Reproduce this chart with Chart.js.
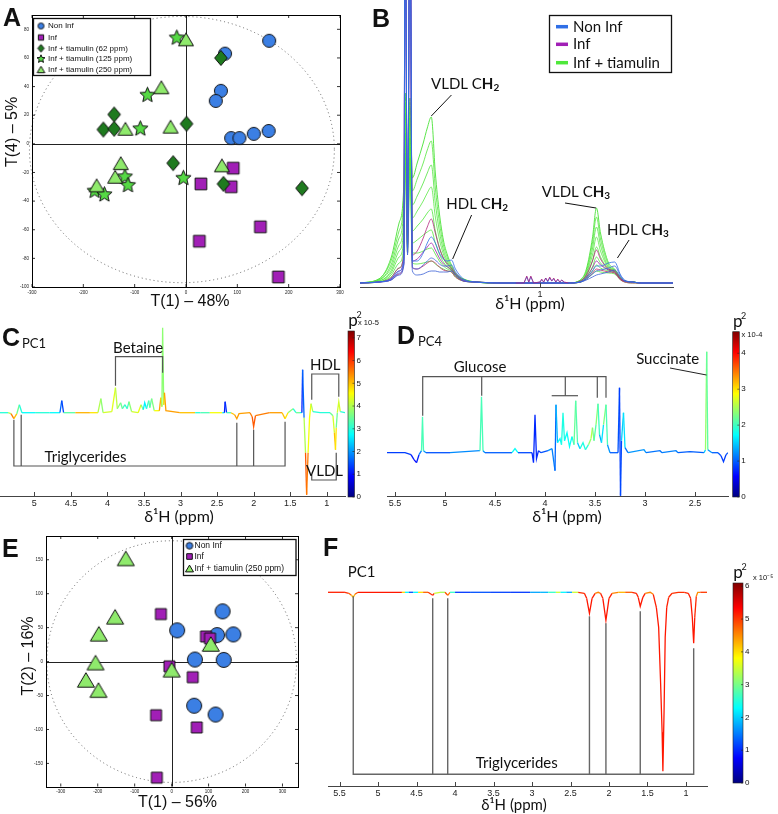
<!DOCTYPE html>
<html>
<head>
<meta charset="utf-8">
<title>Tiamulin NMR figure</title>
<script src="https://cdn.jsdelivr.net/npm/chart.js@4.4.1/dist/chart.umd.min.js"></script>
<style>
  body { margin: 0; background: #fff; }
  #fig { position: relative; width: 778px; height: 814px; overflow: hidden; }
  #fig canvas { position: absolute; }
</style>
</head>
<body>
<div id="fig">
  <canvas id="cA" width="355" height="314" style="left:0;top:0"></canvas>
  <canvas id="cB" width="423" height="320" style="left:355px;top:0"></canvas>
  <canvas id="cC" width="385" height="225" style="left:0;top:300px"></canvas>
  <canvas id="cD" width="393" height="225" style="left:385px;top:300px"></canvas>
  <canvas id="cE" width="330" height="289" style="left:0;top:525px"></canvas>
  <canvas id="cF" width="458" height="289" style="left:320px;top:525px"></canvas>
</div>
<script>
// ---------- panel A scores (T1 vs T4) ----------
var aNonInfX = [162, 76, 68, 58, 88, 104, 132, 161];
var aNonInfY = [72, 63, 37, 30, 4, 4, 7, 9];
var aInfX = [92, 29, 88, 26, 145, 180];
var aInfY = [-17, -28, -30, -68, -58, -93];
var aT62X = [68, -140, -161, -140, 1, -25, 73, 226];
var aT62Y = [60, 20.5, 10, 10.5, 14, -13.5, -28, -31];
var aT125X = [-18, -75, -89, -5, -119, -113, -178, -159];
var aT125Y = [74, 34, 10.5, -24, -23, -29, -33, -35.5];
var aT250X = [0, -48, -118, -30, -127, -138, -174, 70];
var aT250Y = [73, 39.5, 10.5, 12, -13.5, -23, -29, -15];
var aTicksX = [-300, -200, -100, 0, 100, 200, 300];
var aTicksY = [-100, -80, -60, -40, -20, 0, 20, 40, 60, 80];
var aEllipse = [-8, -4, 297, 93];   // centre x, centre y, radius x, radius y

// ---------- panel E scores (T1 vs T2) ----------
var eNonInfX = [138, 15, 123, 167, 63, 141, 61, 119];
var eNonInfY = [74, 46, 39, 40, 3, 2.5, -65, -78];
var eInfX = [-29, 93, 104, -6, 57, -42, 68, -40];
var eInfY = [70, 37, 34, -7, -23, -79, -97, -171];
var eT250X = [-124, -153, -197, -206, -232, -198, 0, 106];
var eT250Y = [152, 66, 41, -1.5, -27, -42, -12, 26];
var eTicksX = [-300, -200, -100, 0, 100, 200, 300];
var eTicksY = [-150, -100, -50, 0, 50, 100, 150];
var eEllipse = [0, 0, 338, 178];

// ---------- panel B spectra ----------
var bPpm = [1.45, 1.40, 1.37, 1.35, 1.338, 1.335, 1.329, 1.323, 1.317, 1.305, 1.29, 1.28, 1.27, 1.26, 1.25, 1.24, 1.23, 1.22, 1.21, 1.19, 1.16, 1.10, 0.93, 0.90, 0.885, 0.87, 0.86, 0.85, 0.83, 0.815, 0.80, 0.79, 0.77, 0.75, 0.67];
var bGreen1 = [0, 4, 25, 60, 100, 190, 100, 185, 105, 120, 140, 155, 166, 110, 70, 43, 28, 18, 10, 4, 1, 0, 0, 3, 14, 45, 75, 50, 20, 14, 5, 2, 1, 0, 0];
var bGreen2 = [0, 4, 22, 52, 90, 180, 90, 175, 92, 104, 120, 133, 142, 95, 61, 38, 25, 16, 9, 4, 1, 0, 0, 3, 12, 40, 66, 44, 18, 13, 5, 2, 1, 0, 0];
var bGreen3 = [0, 3, 18, 45, 78, 170, 78, 165, 78, 87, 100, 110, 118, 80, 52, 33, 22, 15, 9, 3, 1, 0, 0, 2, 10, 34, 56, 38, 16, 13, 5, 2, 1, 0, 0];
var bGreen4 = [0, 3, 15, 38, 66, 160, 66, 155, 65, 72, 82, 90, 96, 66, 44, 29, 20, 14, 8, 3, 1, 0, 0, 2, 9, 28, 46, 32, 15, 12, 4, 2, 1, 0, 0];
var bGreen5 = [0, 2, 12, 32, 56, 150, 56, 145, 52, 57, 64, 70, 74, 52, 36, 25, 18, 14, 8, 3, 1, 0, 0, 2, 7, 22, 36, 26, 14, 12, 4, 2, 1, 0, 0];
var bGreen6 = [0, 2, 10, 26, 46, 140, 46, 135, 40, 43, 48, 51, 53, 40, 29, 21, 16, 13, 8, 3, 1, 0, 0, 1, 6, 16, 26, 20, 13, 11, 4, 2, 1, 0, 0];
var bGreen7 = [0, 1, 8, 20, 38, 130, 38, 125, 30, 30, 32, 34, 35, 29, 22, 17, 14, 12, 7, 2, 1, 0, 0, 1, 5, 12, 18, 15, 12, 10, 4, 2, 1, 0, 0];
var bGreen8 = [0, 1, 6, 15, 30, 120, 30, 115, 20, 19, 20, 21, 22, 19, 16, 14, 12, 11, 6, 2, 1, 0, 0, 1, 4, 9, 12, 11, 10, 9, 3, 1, 0, 0, 0];
var bInf1 = [0, 1, 5, 15, 30, 400, 40, 400, 28, 32, 45, 56, 64, 50, 35, 25, 19, 15, 9, 3, 1, 0, 0, 2, 8, 22, 33, 24, 14, 12, 4, 2, 1, 0, 0];
var bInf2 = [0, 1, 4, 12, 25, 400, 35, 400, 22, 24, 31, 36, 40, 33, 25, 19, 16, 13, 8, 2, 1, 0, 0, 1, 6, 15, 22, 18, 13, 11, 4, 2, 1, 0, 0];
var bInf3 = [0, 1, 3, 9, 20, 400, 30, 400, 15, 14, 17, 20, 22, 20, 16, 13, 12, 11, 6, 2, 1, 0, 0, 1, 4, 10, 14, 13, 11, 10, 3, 1, 0, 0, 0];
var bNon1 = [0, 1, 4, 12, 25, 400, 35, 400, 22, 22, 30, 40, 46, 40, 30, 24, 22, 23, 14, 4, 1, 0, 0, 1, 5, 12, 17, 17, 20, 21, 8, 3, 1, 0, 0];
var bNon2 = [0, 1, 3, 10, 20, 400, 30, 400, 16, 14, 18, 22, 25, 23, 19, 17, 17, 18, 11, 3, 1, 0, 0, 1, 4, 9, 12, 13, 15, 17, 7, 2, 1, 0, 0];
var bNon3 = [0, 1, 3, 8, 18, 400, 28, 400, 12, 8, 9, 11, 12, 12, 11, 11, 11, 12, 8, 2, 1, 0, 0, 1, 3, 6, 8, 9, 11, 13, 6, 2, 1, 0, 0];
var bMultPpm = [1.06, 1.04, 1.033, 1.028, 1.023, 1.016, 1.0, 0.996, 0.991, 0.986, 0.981, 0.976, 0.971, 0.966, 0.961, 0.956, 0.951, 0.946, 0.94, 0.93];
var bMultInf = [0, 0, 7, 1, 7, 0, 1, 4, 1, 5, 2, 6, 2, 5, 1, 4, 1, 3, 1, 0];
var bMultNon = [0, 0, 6, 1, 6, 0, 1, 3, 1, 5, 1, 5, 2, 4, 1, 3, 1, 3, 0, 0];
var bTicks = [1];

// ---------- panel C loadings PC1 (p, coloured by p^2 x1e-5) ----------
var cPpm = [5.47, 5.36, 5.32, 5.28, 5.24, 5.205, 5.17, 4.99, 4.79, 4.65, 4.625, 4.60,
            4.44, 4.24, 4.13, 4.09, 4.06, 3.94, 3.89, 3.865, 3.82, 3.795, 3.76, 3.73,
            3.705, 3.67, 3.58, 3.54, 3.51, 3.49, 3.465, 3.435, 3.42, 3.395, 3.36, 3.29,
            3.27, 3.255, 3.245, 3.23, 3.22, 3.20, 3.01, 2.80, 2.73, 2.60, 2.43, 2.40,
            2.39, 2.37, 2.31, 2.26, 2.23, 2.20, 2.05, 2.02, 2.00, 1.975, 1.78, 1.61,
            1.57, 1.53, 1.46, 1.42, 1.365, 1.34, 1.33, 1.31, 1.29, 1.275, 1.255, 1.235,
            1.215, 1.19, 1.09, 0.955, 0.915, 0.895, 0.88, 0.87, 0.855, 0.835, 0.815, 0.75];
var cLoad = [0, 0, -1, -6, -1, 8, 0, 0, 0, 0, 12, 0,
             0, 0, 0, 14, 0, 1, 25, 4, 10, 4, 8, 4,
             11, 1, 0, 8, 3, 10, 4, 12, 5, 14, 2, 2,
             15, 6, 85, 8, 20, 2, 0, 0, 0, 0, 0, 0,
             11, 0, 0, -2, -6, -1, 0, -4, -14, -3, 0, 0,
             -6, 0, 4, 0, 0, 0, 43, -5, -40, -82, -40, -5,
             9, 1, 0, 0, -3, -20, -37, -15, 0, 11, 1, 0];
var cP2 = [3, 3, 5, 6, 4, 3, 3, 2.5, 3.5, 2, 1.3, 1.5,
           5.2, 5, 4.5, 3.5, 4, 4.5, 4.2, 4, 3.5, 3.5, 3, 3,
           3.5, 4, 4.5, 4.3, 3, 2.3, 3, 3.2, 3.5, 3.3, 4, 5,
           5.5, 4, 3.5, 4, 5.5, 5, 5.5, 4.5, 1.5, 5, 4, 1.2,
           1, 1.5, 5, 5, 5.5, 5, 5.5, 5.5, 6, 5.5, 5.5, 5,
           5, 4.5, 3, 3, 4, 1.5, 0.8, 2.5, 5.5, 6, 5, 4,
           5, 3, 3, 3, 4, 4.5, 5.5, 4, 3, 5.5, 3, 3];
var cTicks = [5, 4.5, 4, 3.5, 3, 2.5, 2, 1.5, 1];
var cBarTicks = [0, 1, 2, 3, 4, 5, 6, 7];

// ---------- panel D loadings PC4 (p^2 x1e-4) ----------
var dPpm = [5.58, 5.40, 5.34, 5.31, 5.285, 5.26, 5.235, 5.225, 5.215, 5.19, 4.95, 4.65,
            4.635, 4.62, 4.60, 4.33, 4.30, 4.27, 4.13, 4.115, 4.10, 4.085, 4.065, 4.04,
            3.97, 3.93, 3.90, 3.89, 3.875, 3.85, 3.835, 3.82, 3.805, 3.78, 3.755, 3.73,
            3.71, 3.693, 3.675, 3.65, 3.62, 3.595, 3.565, 3.54, 3.525, 3.51, 3.49, 3.47,
            3.455, 3.435, 3.415, 3.39, 3.375, 3.35, 3.27, 3.255, 3.245, 3.235, 3.215, 3.20,
            3.17, 3.01, 2.99, 2.85, 2.83, 2.69, 2.67, 2.55, 2.41, 2.395, 2.383, 2.372,
            2.33, 2.27, 2.24, 2.215, 2.19, 2.17];
var dLoad = [0, 0, -2, -7, -10, -2, 2, 36, 2, 0, 0, 2,
             56, 2, 0, 0, 4, 0, 0, -10, 38, -6, 2, 0,
             2, 4, -18, 48, 10, 14, 8, 40, 12, 20, 6, 16,
             8, 52, 10, 4, 10, 3, 8, 14, 25, 12, 28, 49,
             18, 10, 28, 48, 8, 0, 0, 65, -43, 12, 40, 5,
             0, 3, 0, 2, 0, 2, 0, 1, 0, 3, 101, 3,
             0, 0, -3, -9, -2, 0];
var dP2 = [0.8, 0.9, 0.8, 0.6, 0.6, 0.8, 1.5, 2.6, 1.5, 1, 0.9, 1.5,
           2.6, 1.5, 1, 1, 2.5, 1, 0.8, 0.7, 0.8, 0.7, 0.8, 0.9,
           1, 1.5, 0.8, 1.3, 1.5, 2, 1.5, 2.2, 1.5, 2, 1.5, 2,
           1.7, 2.7, 1.5, 1.5, 2.2, 1.5, 2.3, 2.5, 2.6, 2, 2.2, 2.5,
           1.5, 1.2, 2, 2.6, 1.5, 1, 1, 0.9, 0.8, 1, 2, 1.2,
           1, 1.5, 1, 1.2, 1, 1.3, 1, 1, 1, 2, 2.8, 1.5,
           1, 1, 0.9, 0.8, 0.9, 1];
var dTicks = [5.5, 5, 4.5, 4, 3.5, 3, 2.5];
var dBarTicks = [0, 1, 2, 3, 4];

// ---------- panel F loadings PC1 (p^2 x1e-5) ----------
var fPpm = [5.65, 5.43, 5.38, 5.346, 5.322, 5.30, 5.26, 4.975, 4.69, 4.65, 4.60, 4.545,
            4.48, 4.415, 4.35, 4.31, 4.29, 4.27, 4.195, 4.13, 4.095, 4.065, 4.00, 3.805,
            3.675, 3.545, 3.415, 3.285, 3.155, 3.025, 2.895, 2.79, 2.69, 2.63, 2.555, 2.48,
            2.40, 2.32, 2.29, 2.254, 2.22, 2.18, 2.14, 2.11, 2.08, 2.04, 2.00, 1.96,
            1.88, 1.79, 1.70, 1.645, 1.62, 1.594, 1.56, 1.53, 1.465, 1.425, 1.385, 1.355,
            1.33, 1.31, 1.30, 1.285, 1.27, 1.25, 1.225, 1.18, 1.10, 1.022, 0.97, 0.94,
            0.918, 0.90, 0.886, 0.866, 0.847, 0.814, 0.727];
var fLoad = [0, 0, -1, -3, -5, -2, 0, 0, 0, 0, 0, 0,
             0, 0, 0, -2, -3, -1, 0, 0, -3, 0, 0, 0,
             0, 0, 0, 0, 0, 0, 0, 0, 0, 0, 0, 0,
             0, -1, -6, -21, -6, -1, 0, -1, -6, -28, -6, -1,
             0, 0, 0, -1, -5, -14, -5, -1, 0, -2, -15, -35,
             -90, -140, -179, -120, -45, -15, -5, -1, 0, 0, -1, -6,
             -25, -51, -25, -4, 0, 0, 0];
var fP2 = [5.2, 5.1, 5, 4.5, 4, 4.5, 5.1, 5.3, 5.1, 3, 1.5, 1,
           3.5, 4.5, 5, 5.1, 5.2, 5, 2, 4.5, 5.2, 4, 1.2, 1,
           1.5, 1, 1.3, 1, 1.2, 1, 2.5, 1.2, 4, 3, 1.5, 2,
           5, 5.1, 5.2, 5.2, 5.2, 5.1, 4, 5.1, 5.2, 5.2, 5.2, 5.1,
           4, 4.5, 5.1, 5.1, 5.2, 5.2, 5.2, 5.1, 4, 5.1, 5.2, 5.2,
           5.2, 5.2, 5.2, 5.2, 5.2, 5.2, 5.1, 5.1, 5, 5.1, 5.1, 5.2,
           5.2, 5.2, 5.2, 5, 4, 5, 5];
var fTicks = [5.5, 5, 4.5, 4, 3.5, 3, 2.5, 2, 1.5, 1];
var fBarTicks = [0, 1, 2, 3, 4, 5, 6];

// ---------- look ----------
var FM = 'Lato, "Open Sans", sans-serif';
var FH = '"Liberation Sans", Arial, sans-serif';
var BLUE = '#3b7fe4', PURPLE = '#a11fb6', DKGREEN = '#1f7a1f', STARGREEN = '#55d944', TRIGREEN = '#8fea6c';

Chart.defaults.font.family = FH;
Chart.defaults.color = '#222';
Chart.defaults.animation = false;
Chart.defaults.responsive = false;
Chart.defaults.events = [];
Chart.defaults.plugins.legend.display = false;
Chart.defaults.plugins.tooltip.enabled = false;

function jet(t) {
  t = Math.max(0, Math.min(1, t));
  var f = function (v) { return Math.round(255 * Math.max(0, Math.min(1, 1.5 - Math.abs(v)))); };
  return 'rgb(' + f(4 * t - 3) + ',' + f(4 * t - 2) + ',' + f(4 * t - 1) + ')';
}

function marker(kind, r, fill) {
  var s = Math.ceil(2 * r + 3);
  var c = document.createElement('canvas');
  c.width = s; c.height = s;
  var g = c.getContext('2d'), m = s / 2;
  g.beginPath();
  if (kind === 'circle') g.arc(m, m, r, 0, 2 * Math.PI);
  else if (kind === 'square') g.rect(m - r * 0.78, m - r * 0.78, r * 1.56, r * 1.56);
  else if (kind === 'diamond') { g.moveTo(m, m - r); g.lineTo(m + r * 0.84, m); g.lineTo(m, m + r); g.lineTo(m - r * 0.84, m); g.closePath(); }
  else if (kind === 'triangle') { g.moveTo(m, m - r * 0.85); g.lineTo(m + r, m + r * 0.85); g.lineTo(m - r, m + r * 0.85); g.closePath(); }
  else if (kind === 'star') {
    for (var i = 0; i < 10; i++) {
      var a = -Math.PI / 2 + i * Math.PI / 5, rr = i % 2 ? r * 0.45 : r;
      g.lineTo(m + rr * Math.cos(a), m + rr * Math.sin(a));
    }
    g.closePath();
  }
  g.fillStyle = fill; g.fill();
  g.lineWidth = 1; g.strokeStyle = '#111'; g.stroke();
  return c;
}

function pts(xs, ys) { return xs.map(function (x, i) { return { x: x, y: ys[i] }; }); }

function scat(xs, ys, img, order) {
  return { data: pts(xs, ys), pointStyle: img, pointRadius: 7, order: order };
}

function spec(vals, color, width, order) {
  return { data: pts(bPpm, vals), borderColor: color, borderWidth: width, pointRadius: 0,
           fill: false, cubicInterpolationMode: 'monotone', order: order };
}

function loading(ppm, vals, p2, max) {
  return {
    data: pts(ppm, vals), pointRadius: 0, borderWidth: 1.3, tension: 0, borderColor: jet(0.5),
    segment: { borderColor: function (c) { return jet((p2[c.p0DataIndex] + p2[c.p1DataIndex]) / 2 / max); } }
  };
}

function setTicks(list) { return function (s) { s.ticks = list.map(function (v) { return { value: v }; }); }; }

function txt(ctx, s, x, y, font, align, rot) {
  ctx.save();
  ctx.font = font; ctx.fillStyle = '#111';
  ctx.textAlign = align || 'center'; ctx.textBaseline = 'middle';
  ctx.translate(x, y);
  if (rot) ctx.rotate(rot);
  ctx.fillText(s, 0, 0);
  ctx.restore();
}

function chemLabel(ctx, cx, cy, base, sub) {
  ctx.save();
  ctx.fillStyle = '#111'; ctx.textBaseline = 'middle'; ctx.textAlign = 'left';
  var fN = '15px ' + FM, fB = 'bold 15px ' + FM, fS = 'bold 10px ' + FM;
  ctx.font = fN; var w1 = ctx.measureText(base).width;
  ctx.font = fB; var w2 = ctx.measureText('H').width;
  ctx.font = fS; var w3 = ctx.measureText(sub).width;
  var x = cx - (w1 + w2 + w3) / 2;
  ctx.font = fN; ctx.fillText(base, x, cy); x += w1;
  ctx.font = fB; ctx.fillText('H', x, cy); x += w2;
  ctx.font = fS; ctx.fillText(sub, x, cy + 4);
  ctx.restore();
}

function poly(ctx, chart, list, color, width) {
  var X = chart.scales.x, Y = chart.scales.y;
  ctx.save();
  ctx.strokeStyle = color || '#555'; ctx.lineWidth = width || 1.2;
  ctx.beginPath();
  list.forEach(function (p, i) {
    var px = X.getPixelForValue(p[0]), py = Y.getPixelForValue(p[1]);
    if (i === 0) ctx.moveTo(px, py); else ctx.lineTo(px, py);
  });
  ctx.stroke();
  ctx.restore();
}

function dataTxt(ctx, chart, s, ppm, v, font) {
  txt(ctx, s, chart.scales.x.getPixelForValue(ppm), chart.scales.y.getPixelForValue(v), font);
}

function colorbar(ctx, x, top, bottom, w, max, ticks, expo, expoX, expoY) {
  ctx.save();
  var g = ctx.createLinearGradient(0, bottom, 0, top);
  for (var i = 0; i <= 32; i++) g.addColorStop(i / 32, jet(i / 32));
  ctx.fillStyle = g;
  ctx.fillRect(x, top, w, bottom - top);
  ctx.strokeStyle = '#222'; ctx.lineWidth = 0.6;
  ctx.strokeRect(x, top, w, bottom - top);
  ticks.forEach(function (v) {
    var y = bottom - v / max * (bottom - top);
    ctx.beginPath(); ctx.moveTo(x + w - 2, y); ctx.lineTo(x + w, y); ctx.stroke();
    txt(ctx, String(v), x + w + 2, y, '8px ' + FH, 'left');
  });
  txt(ctx, 'p', x + 5, top - 10, '17px ' + FM);
  txt(ctx, '2', x + 11, top - 16, '9px ' + FM);
  txt(ctx, expo, expoX, expoY, '7.5px ' + FH, 'left');
  ctx.restore();
}

function drawLegend(ctx, box, items, mx, tx, font) {
  ctx.save();
  ctx.fillStyle = '#fff'; ctx.fillRect(box[0], box[1], box[2], box[3]);
  ctx.strokeStyle = '#111'; ctx.lineWidth = 1.3; ctx.strokeRect(box[0], box[1], box[2], box[3]);
  items.forEach(function (it) {
    ctx.drawImage(it[0], mx - it[0].width / 2, it[2] - it[0].height / 2);
    txt(ctx, it[1], tx, it[2], font, 'left');
  });
  ctx.restore();
}

function scoreFrame(ell) {
  return function (chart) {
    var ctx = chart.ctx, a = chart.chartArea, X = chart.scales.x, Y = chart.scales.y;
    ctx.save();
    var cx = X.getPixelForValue(ell[0]), cy = Y.getPixelForValue(ell[1]);
    var rx = X.getPixelForValue(ell[0] + ell[2]) - cx, ry = cy - Y.getPixelForValue(ell[1] + ell[3]);
    ctx.setLineDash([1, 3]); ctx.strokeStyle = '#555'; ctx.lineWidth = 0.9;
    ctx.beginPath(); ctx.ellipse(cx, cy, rx, ry, 0, 0, 2 * Math.PI); ctx.stroke();
    ctx.setLineDash([]);
    ctx.strokeStyle = '#222'; ctx.lineWidth = 1;
    var x0 = Math.round(X.getPixelForValue(0)) + 0.5, y0 = Math.round(Y.getPixelForValue(0)) + 0.5;
    ctx.beginPath();
    ctx.moveTo(x0, a.top); ctx.lineTo(x0, a.bottom);
    ctx.moveTo(a.left, y0); ctx.lineTo(a.right, y0);
    ctx.stroke();
    ctx.strokeStyle = '#000';
    ctx.strokeRect(Math.round(a.left) + 0.5, Math.round(a.top) + 0.5, Math.round(a.right - a.left), Math.round(a.bottom - a.top));
    ctx.lineWidth = 0.8; ctx.beginPath();
    X.ticks.forEach(function (t) {
      var p = X.getPixelForValue(t.value);
      ctx.moveTo(p, a.bottom); ctx.lineTo(p, a.bottom - 3);
      ctx.moveTo(p, a.top); ctx.lineTo(p, a.top + 3);
    });
    Y.ticks.forEach(function (t) {
      var p = Y.getPixelForValue(t.value);
      ctx.moveTo(a.left, p); ctx.lineTo(a.left + 3, p);
      ctx.moveTo(a.right, p); ctx.lineTo(a.right - 3, p);
    });
    ctx.stroke();
    ctx.restore();
  };
}

function innerTicks(chart) {
  var ctx = chart.ctx, a = chart.chartArea, X = chart.scales.x;
  ctx.save(); ctx.strokeStyle = '#444'; ctx.lineWidth = 1; ctx.beginPath();
  X.ticks.forEach(function (t) {
    var p = Math.round(X.getPixelForValue(t.value)) + 0.5;
    ctx.moveTo(p, a.bottom); ctx.lineTo(p, a.bottom - 4);
  });
  ctx.stroke(); ctx.restore();
}

function scoreScales(xmin, xmax, ymin, ymax, tx, ty, yw, xh) {
  return {
    x: { type: 'linear', min: xmin, max: xmax, grid: { display: false, drawTicks: false }, border: { display: false },
         ticks: { font: { size: 4.5 }, padding: 3, maxRotation: 0, autoSkip: false },
         afterBuildTicks: setTicks(tx), afterFit: function (s) { s.height = xh; } },
    y: { type: 'linear', min: ymin, max: ymax, grid: { display: false, drawTicks: false }, border: { display: false },
         ticks: { font: { size: 4.5 }, padding: 3, autoSkip: false },
         afterBuildTicks: setTicks(ty), afterFit: function (s) { s.width = yw; } }
  };
}

function specScales(xmin, xmax, ymin, ymax, tk, xh) {
  return {
    x: { type: 'linear', reverse: true, min: xmin, max: xmax, grid: { display: false, drawTicks: false },
         border: { color: '#444', width: 1 },
         ticks: { font: { size: 9 }, padding: 2, maxRotation: 0, autoSkip: false, callback: function (v) { return String(v); } },
         afterBuildTicks: setTicks(tk), afterFit: function (s) { s.height = xh; } },
    y: { display: false, min: ymin, max: ymax }
  };
}

// ---------- markers ----------
var mkA = {
  c: marker('circle', 6.5, BLUE), s: marker('square', 7.5, PURPLE), d: marker('diamond', 7.5, DKGREEN),
  st: marker('star', 8, STARGREEN), t: marker('triangle', 7.5, TRIGREEN)
};
var lgA = {
  c: marker('circle', 3, BLUE), s: marker('square', 3.4, PURPLE), d: marker('diamond', 3.8, DKGREEN),
  st: marker('star', 4.2, STARGREEN), t: marker('triangle', 3.8, TRIGREEN)
};
var mkE = { c: marker('circle', 7.5, BLUE), s: marker('square', 7, PURPLE), t: marker('triangle', 8.5, TRIGREEN) };
var lgE = { c: marker('circle', 3.3, BLUE), s: marker('square', 3.6, PURPLE), t: marker('triangle', 4, TRIGREEN) };

// ---------- A ----------
new Chart(document.getElementById('cA'), {
  type: 'scatter',
  data: { datasets: [
    scat(aNonInfX, aNonInfY, mkA.c, 5),
    scat(aInfX, aInfY, mkA.s, 4),
    scat(aT62X, aT62Y, mkA.d, 3),
    scat(aT125X, aT125Y, mkA.st, 2),
    scat(aT250X, aT250Y, mkA.t, 1)
  ] },
  options: { layout: { padding: { left: 0, top: 15, right: 15, bottom: 0 } },
             scales: scoreScales(-300, 300, -100, 90, aTicksX, aTicksY, 32, 27) },
  plugins: [{
    id: 'decoA',
    beforeDatasetsDraw: scoreFrame(aEllipse),
    afterDraw: function (chart) {
      var ctx = chart.ctx;
      drawLegend(ctx, [33.5, 18.5, 117, 57], [
        [lgA.c, 'Non Inf', 26], [lgA.s, 'Inf', 37.5], [lgA.d, 'Inf + tiamulin (62 ppm)', 48.3],
        [lgA.st, 'Inf + tiamulin (125 ppm)', 59], [lgA.t, 'Inf + tiamulin (250 ppm)', 69.5]
      ], 41, 48, '8px ' + FH);
      txt(ctx, 'A', 3, 19, 'bold 25px ' + FH, 'left');
      txt(ctx, 'T(4) \u2013 5%', 12.5, 132, '16px ' + FH, 'center', -Math.PI / 2);
      txt(ctx, 'T(1) \u2013 48%', 190, 302, '16px ' + FH);
    }
  }]
});

// ---------- B ----------
new Chart(document.getElementById('cB'), {
  type: 'line',
  data: { datasets: [
    spec(bGreen8, '#52e63a', 0.8, 9), spec(bGreen7, '#4fe33c', 0.8, 9), spec(bGreen6, '#56e640', 0.8, 9),
    spec(bGreen5, '#4ee83a', 0.8, 9), spec(bGreen4, '#5ae845', 0.8, 9), spec(bGreen3, '#4fe33c', 0.8, 9),
    spec(bGreen2, '#52e63a', 0.8, 9), spec(bGreen1, '#48e235', 0.9, 9),
    spec(bInf1, '#b0237e', 0.8, 5), spec(bInf2, '#9c1fa8', 0.8, 5), spec(bInf3, '#c0286a', 0.8, 5),
    spec(bNon1, '#2f6fe6', 0.8, 2), spec(bNon2, '#4066dd', 0.8, 2), spec(bNon3, '#3a5fd6', 0.8, 2),
    { data: pts(bMultPpm, bMultNon), borderColor: '#3a6fe0', borderWidth: 0.8, pointRadius: 0, tension: 0, order: 1 },
    { data: pts(bMultPpm, bMultInf), borderColor: '#a8207e', borderWidth: 0.8, pointRadius: 0, tension: 0, order: 0 }
  ] },
  options: { layout: { padding: { left: 5, top: 0, right: 105, bottom: 0 } },
             scales: specScales(0.67, 1.447, -4, 283, bTicks, 33) },
  plugins: [{
    id: 'decoB',
    afterDraw: function (chart) {
      var ctx = chart.ctx;
      innerTicks(chart);
      poly(ctx, chart, [[1.22, 188], [1.27, 167]], '#111', 1);
      poly(ctx, chart, [[1.17, 68], [1.217, 24]], '#111', 1);
      poly(ctx, chart, [[0.938, 80], [0.861, 75]], '#111', 1);
      poly(ctx, chart, [[0.779, 43], [0.808, 25]], '#111', 1);
      var X = chart.scales.x, Y = chart.scales.y;
      chemLabel(ctx, X.getPixelForValue(1.186), Y.getPixelForValue(199), 'VLDL C', '2');
      chemLabel(ctx, X.getPixelForValue(1.156), Y.getPixelForValue(79), 'HDL C', '2');
      chemLabel(ctx, X.getPixelForValue(0.911), Y.getPixelForValue(91), 'VLDL C', '3');
      chemLabel(ctx, X.getPixelForValue(0.757), Y.getPixelForValue(53), 'HDL C', '3');
      ctx.save();
      ctx.fillStyle = '#fff'; ctx.fillRect(194, 15, 122, 57);
      ctx.strokeStyle = '#111'; ctx.lineWidth = 1.3; ctx.strokeRect(194.5, 15.5, 122, 57);
      [['#2f6fe6', 'Non Inf', 26.7], ['#a11fb6', 'Inf', 44.3], ['#4ee83a', 'Inf + tiamulin', 62.7]].forEach(function (it) {
        ctx.strokeStyle = it[0]; ctx.lineWidth = 3.5;
        ctx.beginPath(); ctx.moveTo(201, it[2]); ctx.lineTo(213, it[2]); ctx.stroke();
        txt(ctx, it[1], 218, it[2], '15px ' + FM, 'left');
      });
      ctx.restore();
      txt(ctx, 'B', 17, 20, 'bold 25px ' + FH, 'left');
      txt(ctx, '\u03b4\u00b9H (ppm)', 175, 304, '16px ' + FM);
    }
  }]
});

// ---------- C ----------
new Chart(document.getElementById('cC'), {
  type: 'line',
  data: { datasets: [loading(cPpm, cLoad, cP2, 7.3)] },
  options: { layout: { padding: { left: 0, top: 20, right: 40, bottom: 0 } },
             scales: specScales(0.75, 5.47, -83.3, 92.7, cTicks, 29) },
  plugins: [{
    id: 'decoC',
    afterDraw: function (chart) {
      var ctx = chart.ctx, f = '15px ' + FM;
      innerTicks(chart);
      poly(ctx, chart, [[3.89, 27], [3.89, 56], [3.245, 56], [3.245, 40]]);
      dataTxt(ctx, chart, 'Betaine', 3.58, 65, f);
      poly(ctx, chart, [[1.205, 13], [1.205, 38.7], [0.835, 38.7], [0.835, 16]]);
      dataTxt(ctx, chart, 'HDL', 1.02, 47.5, f);
      poly(ctx, chart, [[5.28, -7], [5.28, -53.3], [1.57, -53.3], [1.57, -9]]);
      poly(ctx, chart, [[5.18, -2], [5.18, -53.3]]);
      poly(ctx, chart, [[2.23, -10], [2.23, -53.3]]);
      poly(ctx, chart, [[2.0, -17], [2.0, -53.3]]);
      dataTxt(ctx, chart, 'Triglycerides', 4.30, -44.5, f);
      poly(ctx, chart, [[1.205, -62], [1.205, -67.3], [0.87, -67.3], [0.87, -40]]);
      dataTxt(ctx, chart, 'VLDL', 1.03, -58.5, f);
      colorbar(ctx, 348, 31, 197, 6.5, 7.3, cBarTicks, 'x 10-5', 358, 23);
      txt(ctx, 'C', 2, 39, 'bold 25px ' + FH, 'left');
      txt(ctx, 'PC1', 34, 43.5, '13px ' + FM);
      txt(ctx, '\u03b4\u00b9H (ppm)', 179, 217, '16px ' + FM);
    }
  }]
});

// ---------- D ----------
new Chart(document.getElementById('cD'), {
  type: 'line',
  data: { datasets: [loading(dPpm, dLoad, dP2, 4.6)] },
  options: { layout: { padding: { left: 2, top: 20, right: 50, bottom: 0 } },
             scales: specScales(2.17, 5.58, -43.3, 132.7, dTicks, 29) },
  plugins: [{
    id: 'decoD',
    afterDraw: function (chart) {
      var ctx = chart.ctx, f = '15px ' + FM;
      innerTicks(chart);
      poly(ctx, chart, [[5.223, 37], [5.223, 76], [3.39, 76], [3.39, 55]]);
      poly(ctx, chart, [[4.633, 76], [4.633, 57]]);
      poly(ctx, chart, [[3.797, 76], [3.797, 57]]);
      poly(ctx, chart, [[3.933, 57], [3.67, 57]]);
      poly(ctx, chart, [[3.477, 76], [3.477, 55]]);
      dataTxt(ctx, chart, 'Glucose', 4.65, 86, f);
      poly(ctx, chart, [[2.75, 84.7], [2.385, 77.7]], '#222', 1);
      dataTxt(ctx, chart, 'Succinate', 2.773, 94, f);
      colorbar(ctx, 347.7, 31.7, 197, 6.6, 4.6, dBarTicks, 'x 10-4', 356.5, 35);
      txt(ctx, 'D', 12, 37.5, 'bold 25px ' + FH, 'left');
      txt(ctx, 'PC4', 45, 42, '13px ' + FM);
      txt(ctx, '\u03b4\u00b9H (ppm)', 182, 217, '16px ' + FM);
    }
  }]
});

// ---------- E ----------
new Chart(document.getElementById('cE'), {
  type: 'scatter',
  data: { datasets: [
    scat(eNonInfX, eNonInfY, mkE.c, 3),
    scat(eInfX, eInfY, mkE.s, 2),
    scat(eT250X, eT250Y, mkE.t, 1)
  ] },
  options: { layout: { padding: { left: 0, top: 11, right: 32, bottom: 0 } },
             scales: scoreScales(-340, 342, -184, 185, eTicksX, eTicksY, 46, 27.5) },
  plugins: [{
    id: 'decoE',
    beforeDatasetsDraw: scoreFrame(eEllipse),
    afterDraw: function (chart) {
      var ctx = chart.ctx;
      drawLegend(ctx, [183.5, 14.5, 112.5, 36], [
        [lgE.c, 'Non Inf', 20.7], [lgE.s, 'Inf', 31.5], [lgE.t, 'Inf + tiamulin (250 ppm)', 43.5]
      ], 189.5, 194.5, '8.5px ' + FH);
      txt(ctx, 'E', 2, 25, 'bold 25px ' + FH, 'left');
      txt(ctx, 'T(2) \u2013 16%', 28.5, 131, '16px ' + FH, 'center', -Math.PI / 2);
      txt(ctx, 'T(1) \u2013 56%', 177.5, 278, '16px ' + FH);
    }
  }]
});

// ---------- F ----------
new Chart(document.getElementById('cF'), {
  type: 'line',
  data: { datasets: [loading(fPpm, fLoad, fP2, 6.1)] },
  options: { layout: { padding: { left: 8, top: 35, right: 71, bottom: 0 } },
             scales: specScales(0.727, 5.65, -193.7, 32.3, fTicks, 28) },
  plugins: [{
    id: 'decoF',
    afterDraw: function (chart) {
      var ctx = chart.ctx;
      innerTicks(chart);
      poly(ctx, chart, [[5.322, -4], [5.322, -182], [0.90, -182], [0.90, -56]], '#666', 1.4);
      [[4.29, -6], [4.095, -6], [2.254, -24], [2.04, -31], [1.594, -19]].forEach(function (p) {
        poly(ctx, chart, [[p[0], p[1]], [p[0], -182]], '#666', 1.4);
      });
      dataTxt(ctx, chart, 'Triglycerides', 3.198, -171, '15px ' + FM);
      colorbar(ctx, 413, 58, 258, 10, 6.1, fBarTicks, 'x 10\u207b\u2075', 433, 53);
      txt(ctx, 'F', 3, 24, 'bold 25px ' + FH, 'left');
      txt(ctx, 'PC1', 41.5, 47, '15px ' + FM);
      txt(ctx, '\u03b4\u00b9H (ppm)', 194, 280.5, '15px ' + FM);
    }
  }]
});
</script>
</body>
</html>
